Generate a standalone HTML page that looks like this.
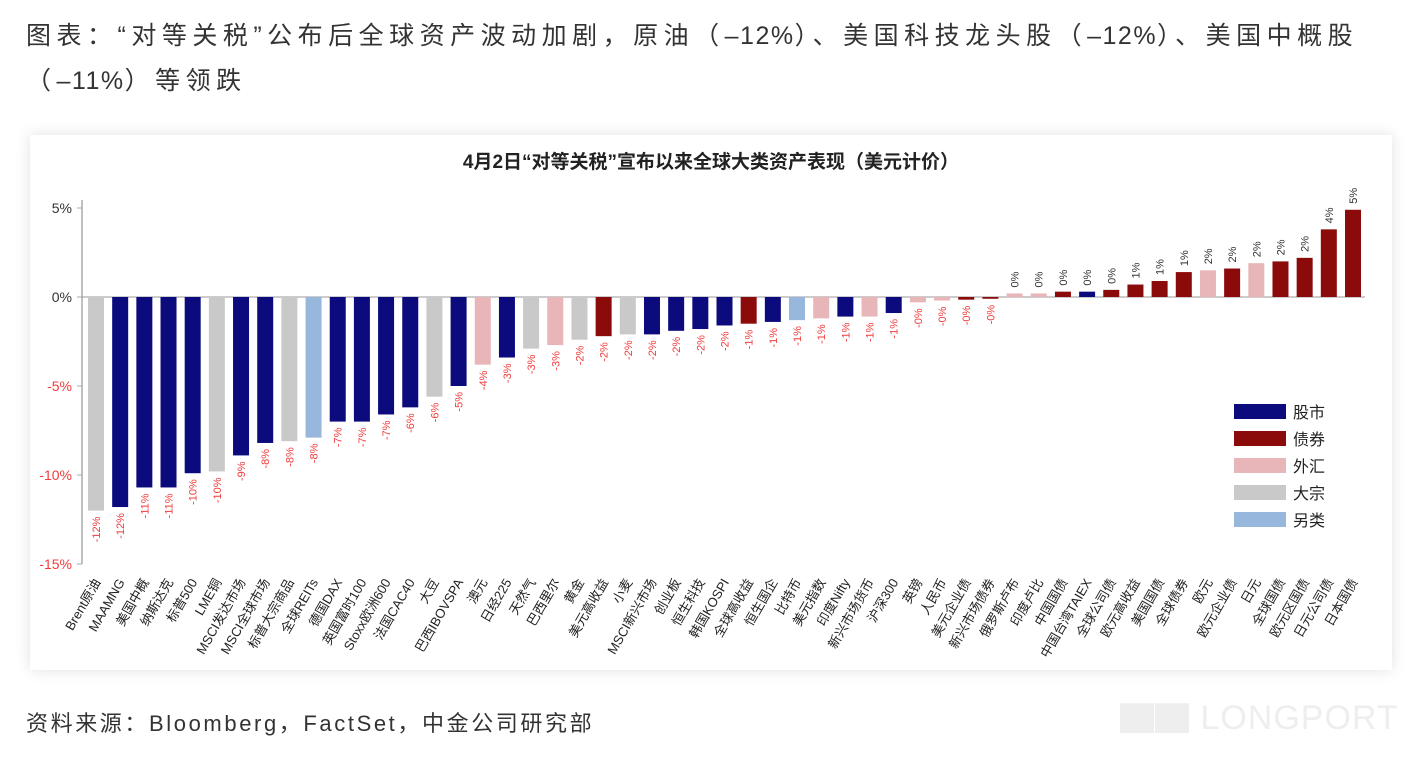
<!DOCTYPE html>
<html><head><meta charset="utf-8">
<style>
body{margin:0;width:1420px;height:760px;background:#fff;overflow:hidden;font-family:"Liberation Sans","Noto Sans CJK SC",sans-serif;}
.head{position:absolute;left:26px;top:14px;width:1400px;font-size:25px;line-height:45px;color:#333;letter-spacing:5.5px;white-space:nowrap;}
.head .l{letter-spacing:1.5px;}
.src{position:absolute;left:26px;top:706px;font-size:22px;color:#333;letter-spacing:2.6px;}
.wm{position:absolute;left:1120px;top:690px;font-size:34px;color:#eee;letter-spacing:1px;}
.card{position:absolute;left:30px;top:135px;width:1362px;height:535px;background:#fff;box-shadow:0 0 14px rgba(0,0,0,0.12);}
svg{position:absolute;left:0;top:0;}
</style></head><body>
<div class="head">图表：“对等关税”公布后全球资产波动加剧，原油（<span class="l">–12%</span>）、美国科技龙头股（<span class="l">–12%</span>）、美国中概股<br>（<span class="l">–11%</span>）等领跌</div>
<div class="card"></div>
<svg id="chart" width="1420" height="760">
<text x="711" y="168" text-anchor="middle" font-size="19" font-weight="bold" fill="#222">4月2日“对等关税”宣布以来全球大类资产表现（美元计价）</text>
</svg>
<div class="src">资料来源：Bloomberg，FactSet，中金公司研究部</div>
<div class="wm">▇▇ LONGPORT</div>
<script>
const categories=["Brent原油","MAAMNG","美国中概","纳斯达克","标普500","LME铜","MSCI发达市场","MSCI全球市场","标普大宗商品","全球REITs","德国DAX","英国富时100","Stoxx欧洲600","法国CAC40","大豆","巴西IBOVSPA","澳元","日经225","天然气","巴西里尔","黄金","美元高收益","小麦","MSCI新兴市场","创业板","恒生科技","韩国KOSPI","全球高收益","恒生国企","比特币","美元指数","印度Nifty","新兴市场货币","沪深300","英镑","人民币","美元企业债","新兴市场债券","俄罗斯卢布","印度卢比","中国国债","中国台湾TAIEX","全球公司债","欧元高收益","美国国债","全球债券","欧元","欧元企业债","日元","全球国债","欧元区国债","日元公司债","日本国债"];
const values=[-12.0,-11.8,-10.7,-10.7,-9.9,-9.8,-8.9,-8.2,-8.1,-7.9,-7.0,-7.0,-6.6,-6.2,-5.6,-5.0,-3.8,-3.4,-2.9,-2.7,-2.4,-2.2,-2.1,-2.1,-1.9,-1.8,-1.6,-1.5,-1.4,-1.3,-1.2,-1.1,-1.1,-0.9,-0.3,-0.2,-0.15,-0.1,0.2,0.2,0.3,0.3,0.4,0.7,0.9,1.4,1.5,1.6,1.9,2.0,2.2,3.8,4.9];
const types=["大宗","股市","股市","股市","股市","大宗","股市","股市","大宗","另类","股市","股市","股市","股市","大宗","股市","外汇","股市","大宗","外汇","大宗","债券","大宗","股市","股市","股市","股市","债券","股市","另类","外汇","股市","外汇","股市","外汇","外汇","债券","债券","外汇","外汇","债券","股市","债券","债券","债券","债券","外汇","债券","外汇","债券","债券","债券","债券"];
const legendItems=["股市","债券","外汇","大宗","另类"];
const yTicks=[5,0,-5,-10,-15];
const colors={"股市":"#0b0b7e","债券":"#8b0a0a","外汇":"#e8b5b9","大宗":"#c9c9c9","另类":"#98b7dc"};
const NS="http://www.w3.org/2000/svg",svg=document.getElementById('chart');
function el(t,a,txt){const e=document.createElementNS(NS,t);for(const k in a)e.setAttribute(k,a[k]);if(txt!==undefined)e.textContent=txt;svg.appendChild(e);return e;}
const y=v=>297-v*17.8;
const x=i=>96+i*(1257/52);
const bw=16;
let ax=el('line',{x1:82,y1:y(5)-8,x2:82,y2:y(-15),stroke:'#aaa','stroke-width':1.5});

yTicks.forEach(t=>{
 let tk=el('line',{x1:77,y1:y(t),x2:82,y2:y(t),stroke:'#aaa'});
 
 let tl=el('text',{x:72,y:y(t)+5,'text-anchor':'end','font-size':14,fill:t<0?'#f03c3c':'#333'},t+'%');
 
});
let zl=el('line',{x1:82,y1:y(0),x2:1365,y2:y(0),stroke:'#999','stroke-width':1});

categories.forEach((c,i)=>{
 const v=values[i],cx=x(i);
 let r=el('rect',{x:cx-bw/2,y:Math.min(y(v),y(0)),width:bw,height:Math.abs(y(v)-y(0)),fill:colors[types[i]]});
 
 const lbl=(v<0?'-':'')+Math.abs(Math.round(v))+'%';
 const ly=v<0?y(v)+6:y(v)-6;
 let t=el('text',{x:cx+4,y:ly,'font-size':11,fill:v<0?'#f03c3c':'#333','text-anchor':v<0?'end':'start',transform:`rotate(-90 ${cx+4} ${ly})`},lbl);
 
 let xl=el('text',{x:cx+5,y:582,'font-size':13,fill:'#222','text-anchor':'end',transform:`rotate(-60 ${cx+5} 582)`},c);
 
});
legendItems.forEach((n,i)=>{
 const ly=404+i*27;
 let s=el('rect',{x:1234,y:ly,width:52,height:15,fill:colors[n]});
 
 let t=el('text',{x:1293,y:ly+14,'font-size':16,fill:'#222'},n);
 
});
</script>
</body></html>
